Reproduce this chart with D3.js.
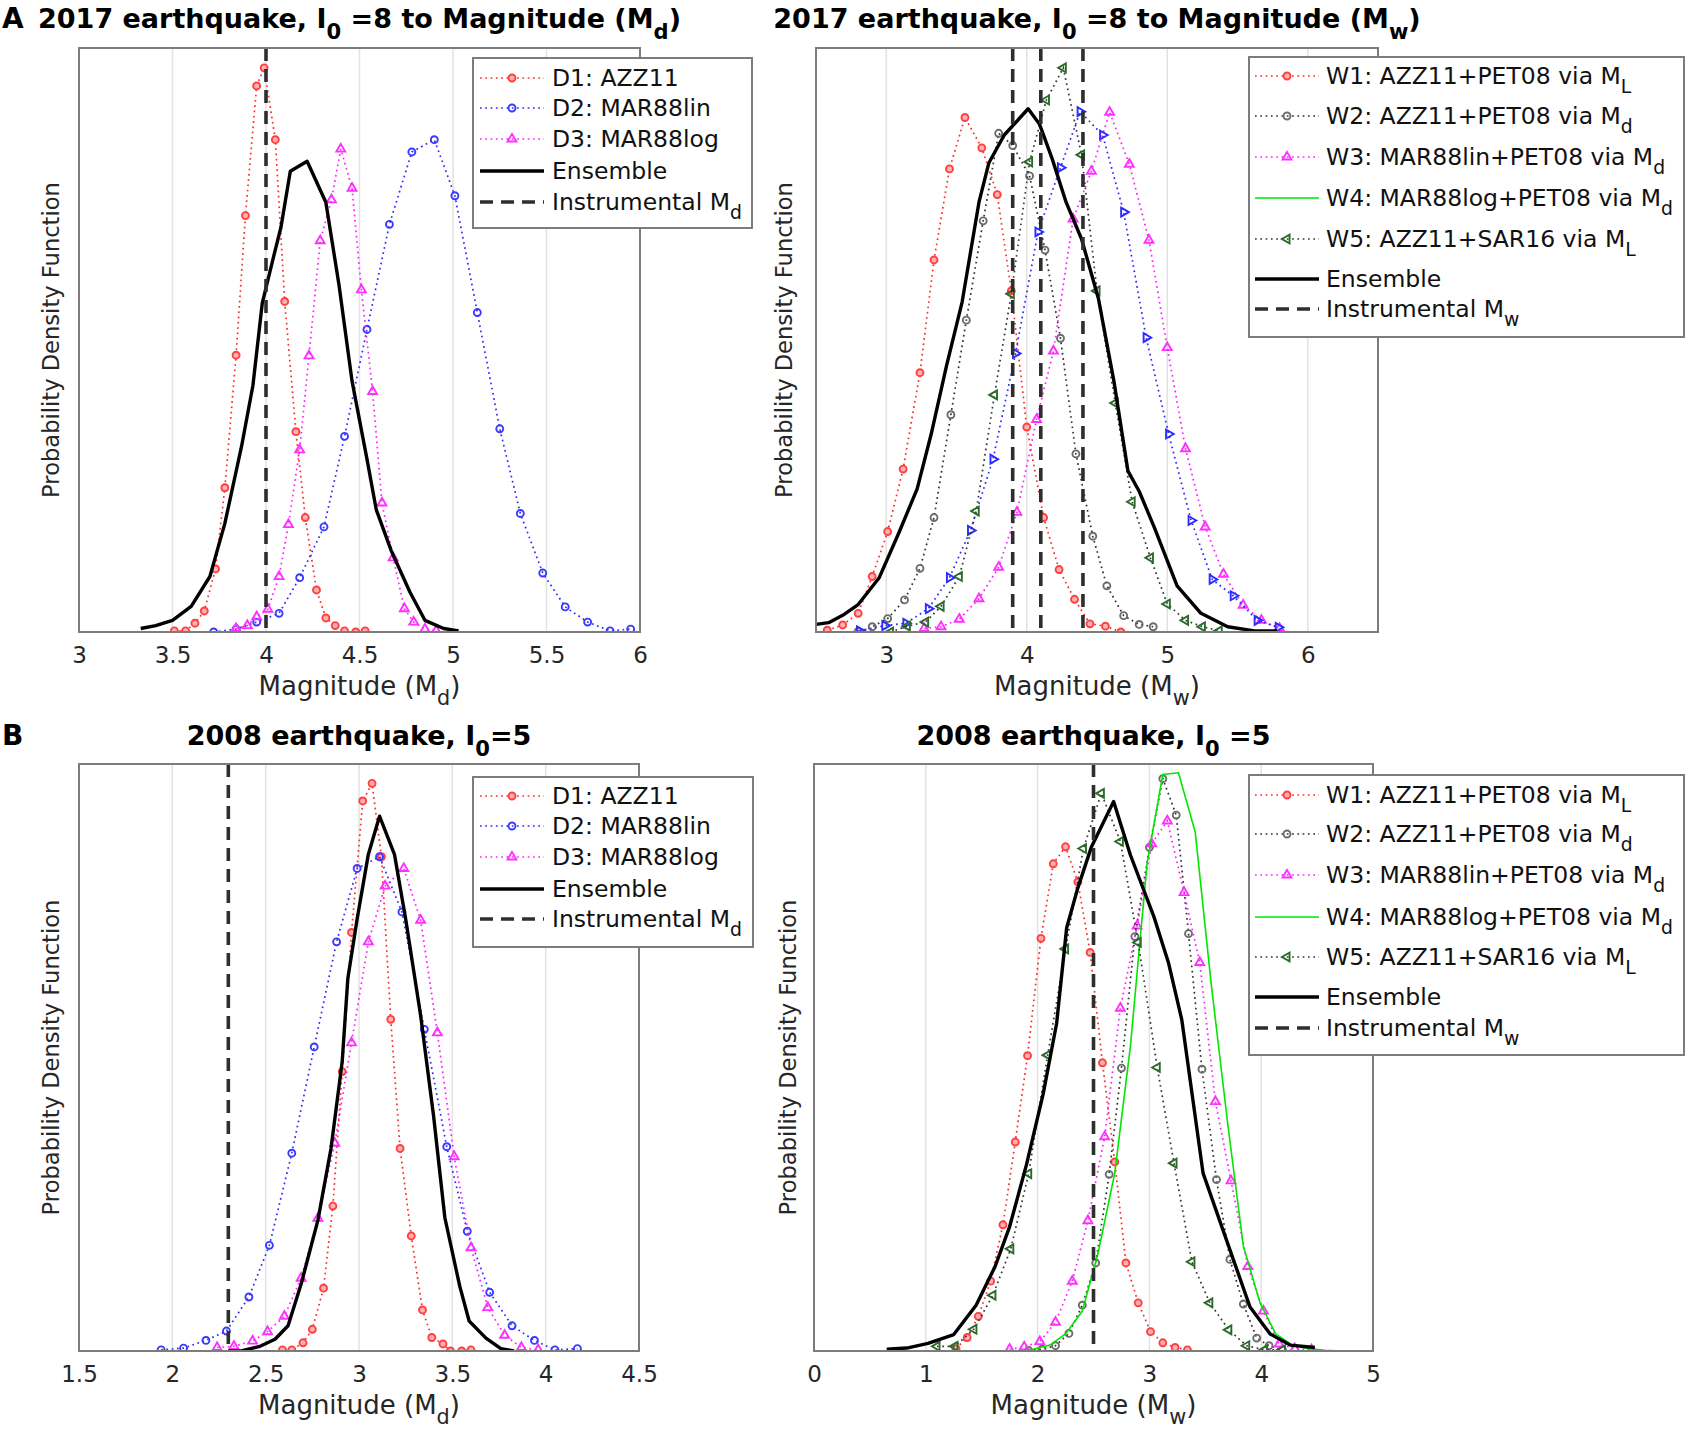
<!DOCTYPE html>
<html>
<head>
<meta charset="utf-8">
<script src="https://cdn.jsdelivr.net/npm/d3@7"></script>
<style>
  body { margin: 0; background: #fff; }
  svg { display: block; }
  text { font-family: "DejaVu Sans", sans-serif; }
</style>
</head>
<body>
<svg id="fig" width="1690" height="1437"></svg>
<script>
// ---- data: [magnitude, relative pdf] ----
// A, left: 2017 earthquake, Md
const a1AZZ11 = [[3.51,0.002],[3.57,0.002],[3.62,0.015],[3.67,0.036],[3.73,0.108],[3.78,0.247],[3.84,0.474],[3.89,0.713],[3.95,0.935],[3.99,0.966],[4.05,0.843],[4.10,0.566],[4.16,0.343],[4.21,0.196],[4.27,0.072],[4.32,0.024],[4.37,0.011],[4.42,0.002],[4.48,0],[4.53,0.002]];
const a1MAR88lin = [[3.72,0],[3.84,0.005],[3.95,0.017],[4.07,0.032],[4.18,0.093],[4.31,0.180],[4.42,0.335],[4.54,0.518],[4.66,0.698],[4.78,0.822],[4.90,0.843],[5.01,0.747],[5.13,0.547],[5.25,0.348],[5.36,0.203],[5.48,0.101],[5.60,0.043],[5.72,0.017],[5.84,0.002],[5.95,0.005]];
const a1MAR88log = [[3.84,0.006],[3.90,0.011],[3.95,0.026],[4.01,0.039],[4.07,0.095],[4.12,0.184],[4.18,0.312],[4.23,0.473],[4.29,0.670],[4.35,0.740],[4.40,0.827],[4.46,0.760],[4.51,0.586],[4.57,0.412],[4.62,0.221],[4.68,0.127],[4.74,0.040],[4.79,0.017],[4.85,0.005],[4.91,0.002]];
const a1Ensemble = [[3.33,0.006],[3.41,0.011],[3.50,0.020],[3.60,0.044],[3.70,0.095],[3.78,0.186],[3.87,0.319],[3.93,0.422],[3.98,0.563],[4.04,0.642],[4.08,0.693],[4.13,0.789],[4.22,0.806],[4.32,0.736],[4.39,0.595],[4.46,0.430],[4.54,0.296],[4.59,0.209],[4.67,0.139],[4.77,0.068],[4.85,0.020],[4.95,0.006],[5.03,0.002]];
const a1Instrumental = [4.0];

// A, right: 2017 earthquake, Mw
const a2W1 = [[2.58,0.003],[2.69,0.012],[2.80,0.032],[2.90,0.095],[3.01,0.172],[3.12,0.279],[3.24,0.444],[3.34,0.637],[3.45,0.793],[3.56,0.881],[3.68,0.829],[3.79,0.749],[3.89,0.584],[4.00,0.351],[4.12,0.196],[4.23,0.107],[4.34,0.056],[4.45,0.014],[4.56,0.010],[4.67,0]];
const a2W2 = [[2.80,0.001],[2.90,0.009],[3.01,0.023],[3.13,0.055],[3.24,0.109],[3.34,0.196],[3.46,0.372],[3.57,0.534],[3.69,0.704],[3.80,0.854],[3.90,0.833],[4.02,0.781],[4.13,0.654],[4.24,0.503],[4.35,0.305],[4.47,0.164],[4.57,0.079],[4.69,0.028],[4.80,0.013],[4.90,0.009]];
const a2W3 = [[3.27,0.006],[3.39,0.009],[3.52,0.022],[3.66,0.057],[3.80,0.111],[3.93,0.205],[4.07,0.364],[4.19,0.481],[4.33,0.707],[4.46,0.789],[4.59,0.890],[4.73,0.801],[4.87,0.671],[5.00,0.487],[5.13,0.314],[5.27,0.180],[5.40,0.099],[5.54,0.046],[5.67,0.020],[5.80,0.006]];
const a2W4 = [[2.81,0.002],[2.99,0.011],[3.14,0.015],[3.30,0.040],[3.45,0.093],[3.60,0.174],[3.76,0.296],[3.92,0.477],[4.08,0.685],[4.24,0.795],[4.38,0.891],[4.54,0.851],[4.69,0.719],[4.85,0.504],[5.01,0.339],[5.17,0.191],[5.32,0.090],[5.47,0.062],[5.64,0.020],[5.79,0.008]];
const a2W5 = [[3.03,0],[3.15,0.010],[3.28,0.017],[3.39,0.044],[3.52,0.095],[3.64,0.207],[3.77,0.406],[3.89,0.579],[4.02,0.805],[4.14,0.911],[4.26,0.966],[4.39,0.817],[4.50,0.584],[4.63,0.392],[4.75,0.223],[4.88,0.127],[5.00,0.048],[5.13,0.020],[5.25,0.009],[5.37,0.002]];
const a2Ensemble = [[2.50,0.013],[2.59,0.016],[2.70,0.030],[2.80,0.047],[2.95,0.093],[3.09,0.170],[3.22,0.245],[3.32,0.339],[3.43,0.457],[3.54,0.565],[3.66,0.736],[3.73,0.803],[3.84,0.851],[4.01,0.896],[4.09,0.870],[4.18,0.811],[4.28,0.736],[4.39,0.673],[4.51,0.571],[4.62,0.430],[4.72,0.276],[4.80,0.241],[4.91,0.178],[5.07,0.079],[5.24,0.032],[5.43,0.009],[5.62,0.002],[5.78,0.002]];
const a2Instrumental = [3.9, 4.1, 4.4];

// B, left: 2008 earthquake, Md
const b1AZZ11 = [[2.59,0.002],[2.64,0.002],[2.70,0.014],[2.75,0.037],[2.81,0.107],[2.86,0.247],[2.91,0.476],[2.96,0.713],[3.02,0.937],[3.07,0.967],[3.12,0.842],[3.17,0.565],[3.22,0.345],[3.28,0.196],[3.34,0.070],[3.39,0.023],[3.45,0.012],[3.49,0],[3.55,0],[3.60,0.002]];
const b1MAR88lin = [[1.94,0.002],[2.06,0.005],[2.18,0.018],[2.29,0.034],[2.41,0.092],[2.52,0.180],[2.64,0.337],[2.76,0.518],[2.88,0.697],[2.99,0.822],[3.11,0.842],[3.23,0.748],[3.35,0.548],[3.47,0.348],[3.58,0.204],[3.70,0.100],[3.82,0.043],[3.94,0.018],[4.05,0.002],[4.17,0.004]];
const b1MAR88log = [[2.24,0.006],[2.33,0.008],[2.43,0.017],[2.51,0.033],[2.60,0.059],[2.69,0.124],[2.78,0.226],[2.87,0.354],[2.96,0.525],[3.05,0.697],[3.14,0.792],[3.24,0.822],[3.33,0.734],[3.42,0.542],[3.51,0.331],[3.60,0.176],[3.69,0.074],[3.78,0.027],[3.87,0.006],[3.96,0.002]];
const b1Ensemble = [[2.30,0],[2.37,0],[2.47,0.008],[2.55,0.020],[2.62,0.043],[2.69,0.114],[2.78,0.223],[2.85,0.345],[2.91,0.493],[2.94,0.634],[2.99,0.736],[3.05,0.846],[3.11,0.911],[3.19,0.846],[3.25,0.736],[3.33,0.572],[3.40,0.399],[3.46,0.227],[3.54,0.110],[3.59,0.051],[3.68,0.022],[3.76,0.004],[3.83,0]];
const b1Instrumental = [2.3];

// B, right: 2008 earthquake, Mw
const b2W1 = [[1.27,0.004],[1.37,0.023],[1.47,0.059],[1.58,0.119],[1.69,0.215],[1.80,0.356],[1.91,0.503],[2.03,0.703],[2.14,0.830],[2.25,0.859],[2.36,0.799],[2.47,0.679],[2.58,0.491],[2.69,0.322],[2.79,0.150],[2.90,0.082],[3.01,0.033],[3.12,0.014],[3.23,0.006],[3.34,0.002]];
const b2W2 = [[1.92,0.001],[2.04,0.003],[2.16,0.009],[2.28,0.030],[2.40,0.078],[2.52,0.150],[2.64,0.301],[2.75,0.482],[2.87,0.706],[3.00,0.858],[3.12,0.975],[3.24,0.913],[3.35,0.711],[3.47,0.480],[3.60,0.292],[3.72,0.156],[3.84,0.080],[3.96,0.022],[4.07,0.009],[4.19,0.002]];
const b2W3 = [[1.75,0.003],[1.88,0.007],[2.02,0.016],[2.16,0.049],[2.31,0.119],[2.45,0.222],[2.60,0.365],[2.74,0.584],[2.89,0.724],[3.02,0.864],[3.16,0.903],[3.31,0.781],[3.45,0.662],[3.59,0.425],[3.73,0.290],[3.88,0.144],[4.02,0.068],[4.16,0.012],[4.30,0.004],[4.45,0.002]];
const b2W4 = [[1.82,0],[1.96,0.003],[2.11,0.010],[2.25,0.029],[2.40,0.068],[2.54,0.166],[2.69,0.303],[2.83,0.519],[2.98,0.832],[3.12,0.982],[3.26,0.985],[3.41,0.884],[3.55,0.630],[3.70,0.388],[3.84,0.179],[3.99,0.082],[4.13,0.029],[4.28,0.010],[4.42,0.004],[4.57,0.001],[4.71,0]];
const b2W5 = [[1.10,0.008],[1.26,0.008],[1.43,0.037],[1.60,0.095],[1.76,0.174],[1.92,0.302],[2.09,0.504],[2.25,0.685],[2.41,0.856],[2.57,0.950],[2.74,0.868],[2.90,0.696],[3.07,0.483],[3.22,0.320],[3.38,0.152],[3.54,0.082],[3.71,0.036],[3.87,0.009],[4.03,0.002],[4.19,0.002]];
const b2Ensemble = [[0.65,0.003],[0.83,0.005],[1.02,0.013],[1.25,0.028],[1.45,0.078],[1.62,0.144],[1.75,0.212],[1.90,0.317],[2.05,0.438],[2.17,0.558],[2.26,0.721],[2.36,0.789],[2.48,0.858],[2.68,0.936],[2.83,0.845],[3.04,0.740],[3.17,0.662],[3.29,0.564],[3.48,0.303],[3.66,0.205],[3.90,0.075],[4.08,0.029],[4.26,0.010],[4.48,0.006]];
const b2Instrumental = [2.5];

// tick labels
const ticksA1 = [3, 3.5, 4, 4.5, 5, 5.5, 6];
const ticksA2 = [3, 4, 5, 6];
const ticksB1 = [1.5, 2, 2.5, 3, 3.5, 4, 4.5];
const ticksB2 = [0, 1, 2, 3, 4, 5];

// text pieces: [string, isSubscript]
const titleA1 = [["2017 earthquake, I"], ["0", 1], [" =8 to Magnitude (M"], ["d", 1], [")"]];
const titleA2 = [["2017 earthquake, I"], ["0", 1], [" =8 to Magnitude (M"], ["w", 1], [")"]];
const titleB1 = [["2008 earthquake, I"], ["0", 1], ["=5"]];
const titleB2 = [["2008 earthquake, I"], ["0", 1], [" =5"]];
const xLabelMd = [["Magnitude (M"], ["d", 1], [")"]];
const xLabelMw = [["Magnitude (M"], ["w", 1], [")"]];
const yLabel = "Probability Density Function";

const legendMd = [
  { kind: "red", label: [["D1: AZZ11"]] },
  { kind: "blue", label: [["D2: MAR88lin"]] },
  { kind: "mag", label: [["D3: MAR88log"]] },
  { kind: "ens", label: [["Ensemble"]] },
  { kind: "inst", label: [["Instrumental M"], ["d", 1]] }
];
const legendMw = [
  { kind: "red", label: [["W1: AZZ11+PET08 via M"], ["L", 1]] },
  { kind: "grey", label: [["W2: AZZ11+PET08 via M"], ["d", 1]] },
  { kind: "mag", label: [["W3: MAR88lin+PET08 via M"], ["d", 1]] },
  { kind: "green", label: [["W4: MAR88log+PET08 via M"], ["d", 1]] },
  { kind: "dkgreen", label: [["W5: AZZ11+SAR16 via M"], ["L", 1]] },
  { kind: "ens", label: [["Ensemble"]] },
  { kind: "inst", label: [["Instrumental M"], ["w", 1]] }
];

// line / marker styles
const styles = {
  red:     { line: "#ff2b2b", mark: "#ff4040", fill: "#ffb0b0", marker: "circle" },
  blue:    { line: "#2b2bff", mark: "#3a3aff", marker: "circle" },
  blueR:   { line: "#2b2bff", mark: "#2b2bff", marker: "right" },
  mag:     { line: "#ff22ff", mark: "#ff30ff", marker: "up" },
  grey:    { line: "#303030", mark: "#6c6c6c", marker: "circle" },
  green:   { line: "#00e600", solid: true },
  dkgreen: { line: "#303a30", mark: "#2a6a2a", marker: "left" }
};

const panels = [
  { left: 79, right: 640, top: 48, bottom: 632, domain: [3, 6], ticks: ticksA1,
    title: titleA1, titleY: 28, xLabel: xLabelMd, yLabX: 59,
    series: [[a1AZZ11, "red"], [a1MAR88lin, "blue"], [a1MAR88log, "mag"]],
    ens: a1Ensemble, inst: a1Instrumental,
    legend: { x: 473, y: 58, w: 279, h: 170, rows: [20, 50, 81, 113, 144], items: legendMd, lx: 7, tx: 79 } },
  { left: 816, right: 1378, top: 48, bottom: 632, domain: [2.5, 6.5], ticks: ticksA2,
    title: titleA2, titleY: 28, xLabel: xLabelMw, yLabX: 792,
    series: [[a2W1, "red"], [a2W2, "grey"], [a2W3, "mag"], [a2W4, "blueR"], [a2W5, "dkgreen"]],
    ens: a2Ensemble, inst: a2Instrumental,
    legend: { x: 1249, y: 57, w: 435, h: 280, rows: [19, 59, 100, 141, 182, 222, 252], items: legendMw, lx: 6, tx: 77 } },
  { left: 79, right: 639, top: 764, bottom: 1351, domain: [1.5, 4.5], ticks: ticksB1,
    title: titleB1, titleY: 745, xLabel: xLabelMd, yLabX: 59,
    series: [[b1AZZ11, "red"], [b1MAR88lin, "blue"], [b1MAR88log, "mag"]],
    ens: b1Ensemble, inst: b1Instrumental,
    legend: { x: 473, y: 777, w: 280, h: 170, rows: [19, 49, 80, 112, 142], items: legendMd, lx: 7, tx: 79 } },
  { left: 814, right: 1373, top: 764, bottom: 1351, domain: [0, 5], ticks: ticksB2,
    title: titleB2, titleY: 745, xLabel: xLabelMw, yLabX: 796,
    series: [[b2W1, "red"], [b2W2, "grey"], [b2W3, "mag"], [b2W4, "green"], [b2W5, "dkgreen"]],
    ens: b2Ensemble, inst: b2Instrumental,
    legend: { x: 1249, y: 775, w: 435, h: 280, rows: [20, 59, 100, 142, 182, 222, 253], items: legendMw, lx: 6, tx: 77 } }
];

const svg = d3.select("#fig");
svg.append("rect").attr("width", 1690).attr("height", 1437).attr("fill", "#fff");

// text with subscripts
function rich(textSel, parts, size, shift, subScale) {
  let down = false;
  parts.forEach(([t, sub]) => {
    const ts = textSel.append("tspan").text(t);
    if (sub) {
      ts.attr("font-size", size * subScale);
      if (!down) { ts.attr("dy", size * shift); down = true; }
    } else if (down) {
      ts.attr("dy", -size * shift); down = false;
    }
  });
  return textSel;
}

function markerPath(type) {
  if (type === "circle") return d3.symbol().type(d3.symbolCircle).size(38)();
  return d3.symbol().type(d3.symbolTriangle).size(34)();
}
const markerRot = { circle: 0, up: 0, right: 90, left: -90 };

function drawSeries(g, data, st, x, y) {
  const line = d3.line().x(d => x(d[0])).y(d => y(d[1]));
  g.append("path").datum(data)
    .attr("d", line)
    .attr("fill", "none")
    .attr("stroke", st.line)
    .attr("stroke-width", st.solid ? 1.6 : 1.7)
    .attr("stroke-dasharray", st.solid ? null : "1.7,3.6");
  if (st.marker) {
    g.append("g").selectAll("path").data(data).join("path")
      .attr("d", markerPath(st.marker))
      .attr("transform", d => `translate(${x(d[0])},${y(d[1])}) rotate(${markerRot[st.marker]})`)
      .attr("fill", st.fill || "none")
      .attr("stroke", st.mark)
      .attr("stroke-width", 1.9);
  }
}

panels.forEach((p, i) => {
  const x = d3.scaleLinear().domain(p.domain).range([p.left, p.right]);
  const y = d3.scaleLinear().domain([0, 1]).range([p.bottom, p.top]);
  const g = svg.append("g");

  const clipId = "clip" + i;
  svg.append("clipPath").attr("id", clipId)
    .append("rect").attr("x", p.left).attr("y", p.top)
    .attr("width", p.right - p.left).attr("height", p.bottom - p.top);

  // vertical grid
  g.append("g").selectAll("line")
    .data(p.ticks.filter(t => t > p.domain[0] && t < p.domain[1]))
    .join("line")
      .attr("x1", d => x(d)).attr("x2", d => x(d))
      .attr("y1", p.top).attr("y2", p.bottom)
      .attr("stroke", "#e2e2e2").attr("stroke-width", 1.5);

  // tick labels
  const ax = g.append("g")
    .attr("transform", `translate(0,${p.bottom})`)
    .call(d3.axisBottom(x).tickValues(p.ticks).tickSize(0).tickFormat(d => String(d)));
  ax.select(".domain").remove();
  ax.selectAll("text")
    .attr("dy", null).attr("y", 31)
    .attr("font-size", 23).attr("fill", "#262626")
    .attr("font-family", "DejaVu Sans, sans-serif");

  // curves
  const plot = g.append("g").attr("clip-path", `url(#${clipId})`);
  p.series.forEach(([data, key]) => drawSeries(plot, data, styles[key], x, y));

  plot.append("path").datum(p.ens)
    .attr("d", d3.line().x(d => x(d[0])).y(d => y(d[1])))
    .attr("fill", "none").attr("stroke", "#000").attr("stroke-width", 3.4)
    .attr("stroke-linejoin", "round");

  plot.append("g").selectAll("line").data(p.inst).join("line")
    .attr("x1", d => x(d)).attr("x2", d => x(d))
    .attr("y1", p.top).attr("y2", p.bottom)
    .attr("stroke", "#2e2e2e").attr("stroke-width", 3.6)
    .attr("stroke-dasharray", "13,8");

  // axes box
  g.append("rect")
    .attr("x", p.left).attr("y", p.top)
    .attr("width", p.right - p.left).attr("height", p.bottom - p.top)
    .attr("fill", "none").attr("stroke", "#7c7c7c").attr("stroke-width", 2);

  // titles and labels
  rich(g.append("text")
      .attr("x", (p.left + p.right) / 2).attr("y", p.titleY)
      .attr("text-anchor", "middle").attr("font-size", 27).attr("font-weight", "bold"),
    p.title, 27, 0.4, 0.78);

  rich(g.append("text")
      .attr("x", (p.left + p.right) / 2).attr("y", p.bottom + 63)
      .attr("text-anchor", "middle").attr("font-size", 26).attr("fill", "#262626"),
    p.xLabel, 26, 0.4, 0.8);

  g.append("text")
    .attr("transform", `translate(${p.yLabX},${(p.top + p.bottom) / 2}) rotate(-90)`)
    .attr("text-anchor", "middle").attr("font-size", 22.6).attr("fill", "#262626")
    .text(yLabel);

  // legend
  const L = p.legend;
  const lg = svg.append("g").attr("transform", `translate(${L.x},${L.y})`);
  lg.append("rect").attr("width", L.w).attr("height", L.h)
    .attr("fill", "#fff").attr("stroke", "#7c7c7c").attr("stroke-width", 2);
  L.items.forEach((it, k) => {
    const cy = L.rows[k];
    const x0 = L.lx, x1 = L.lx + 64, xm = (x0 + x1) / 2;
    if (it.kind === "ens") {
      lg.append("line").attr("x1", x0).attr("x2", x1).attr("y1", cy).attr("y2", cy)
        .attr("stroke", "#000").attr("stroke-width", 3.4);
    } else if (it.kind === "inst") {
      lg.append("line").attr("x1", x0).attr("x2", x1).attr("y1", cy).attr("y2", cy)
        .attr("stroke", "#2e2e2e").attr("stroke-width", 3.6).attr("stroke-dasharray", "13,8");
    } else {
      const st = styles[it.kind];
      lg.append("line").attr("x1", x0).attr("x2", x1).attr("y1", cy).attr("y2", cy)
        .attr("stroke", st.line).attr("stroke-width", st.solid ? 1.6 : 1.7)
        .attr("stroke-dasharray", st.solid ? null : "1.7,3.6");
      if (st.marker) {
        lg.append("path").attr("d", markerPath(st.marker))
          .attr("transform", `translate(${xm},${cy}) rotate(${markerRot[st.marker]})`)
          .attr("fill", st.fill || "none").attr("stroke", st.mark).attr("stroke-width", 1.9);
      }
    }
    rich(lg.append("text").attr("x", L.tx).attr("y", cy + 8)
        .attr("font-size", 23.5).attr("fill", "#111"),
      it.label, 23.5, 0.38, 0.8);
  });
});

// panel letters
svg.append("text").attr("x", 2).attr("y", 28).attr("font-size", 28).attr("font-weight", "bold").text("A");
svg.append("text").attr("x", 2).attr("y", 745).attr("font-size", 28).attr("font-weight", "bold").text("B");
</script>
</body>
</html>
